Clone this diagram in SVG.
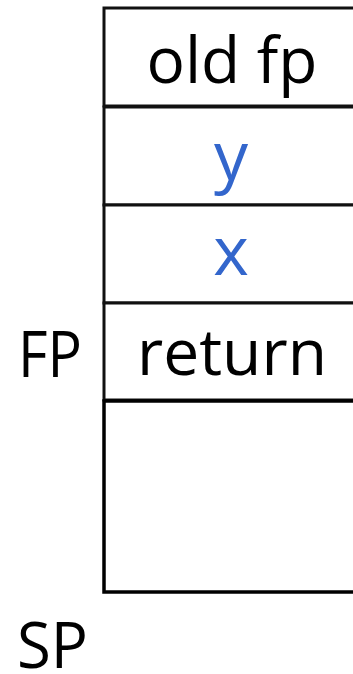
<svg xmlns="http://www.w3.org/2000/svg" width="353" height="674" viewBox="0 0 353 674">
<style>
.cell{fill:#fff;stroke:#111;stroke-width:3}
.big{fill:#fff;stroke:#000;stroke-width:3.5}
text{font-family:"Comic Sans MS","Open Sans",sans-serif;font-size:64px;fill:#000}
.c{text-anchor:middle}
.v{fill:#3366cc;font-size:68px}
</style>
<rect width="353" height="674" fill="#fff"/>
<g id="old-fp"><rect class="cell" x="104" y="8" width="262" height="98"/><text class="c" x="232" y="83" textLength="171" lengthAdjust="spacingAndGlyphs">old fp</text></g>
<g id="y"><rect class="cell" x="104" y="107" width="262" height="98"/><text class="c v" x="231" y="180">y</text></g>
<g id="x"><rect class="cell" x="104" y="205" width="262" height="98"/><text class="c v" x="231" y="275">x</text></g>
<g id="return"><rect class="cell" x="104" y="303" width="262" height="97"/><text class="c" x="232" y="375" textLength="190" lengthAdjust="spacingAndGlyphs">return</text></g>
<g id="frame"><rect class="big" x="104" y="401" width="262" height="191"/></g>
<g id="fp-label"><text x="18" y="377" textLength="64" lengthAdjust="spacingAndGlyphs">FP</text></g>
<g id="sp-label"><text x="17" y="668" textLength="71" lengthAdjust="spacingAndGlyphs">SP</text></g>
<g id="connectors"></g>
</svg>
